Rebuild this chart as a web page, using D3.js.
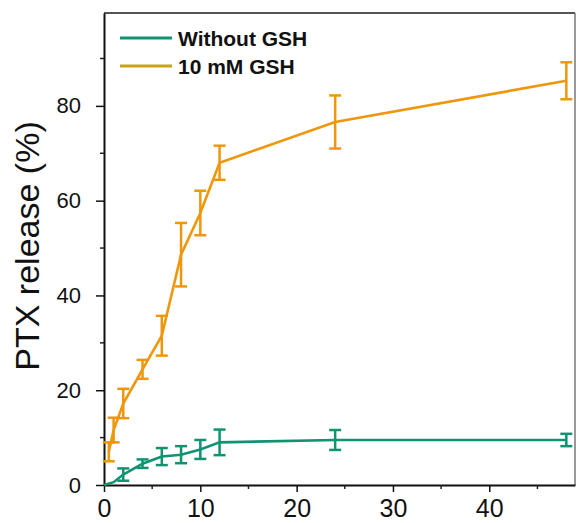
<!DOCTYPE html>
<html>
<head>
<meta charset="utf-8">
<script src="https://cdn.jsdelivr.net/npm/d3@7"></script>
<style>
    body { margin: 0; padding: 0; background: #fff; }
    svg { display: block; font-family: "Liberation Sans", Arial, sans-serif; }
</style>
</head>
<body>
<div id="chart"></div>
<script>
    // time points (h)
    var timeGSH = [0.5, 1, 2, 4, 6, 8, 10, 12, 24, 48];
    var releaseGSH = [7.0, 11.6, 17.2, 24.4, 31.5, 48.6, 57.4, 68.0, 76.6, 85.3];
    var errGSH = [2.0, 2.6, 3.1, 2.0, 4.2, 6.7, 4.7, 3.6, 5.6, 3.9];

    var timeNo = [0, 1, 2, 4, 6, 8, 10, 12, 24, 48];
    var releaseNo = [0, 0.6, 2.2, 4.5, 6.0, 6.4, 7.5, 9.0, 9.5, 9.5];
    var errNo = [0, 0, 1.3, 0.9, 1.8, 1.8, 2.0, 2.7, 2.1, 1.3];

    var xTicks = [0, 10, 20, 30, 40];
    var xMinor = [5, 15, 25, 35, 45];
    var yTicks = [0, 20, 40, 60, 80];
    var yMinor = [10, 30, 50, 70, 90];

    var seriesNames = ["Without GSH", "10 mM GSH"];
    var COLORS = { green: "#0f9370", orange: "#ee970c", goldLegend: "#c9a21c" };

    var W = 576, H = 523;
    var margin = { left: 104, right: 1, top: 13, bottom: 38 };

    var svg = d3.select("#chart").append("svg")
        .attr("width", W)
        .attr("height", H);

    var x = d3.scaleLinear().domain([0, 48.9]).range([margin.left, W - margin.right]);
    var y = d3.scaleLinear().domain([0, 99.6]).range([H - margin.bottom, margin.top]);

    // frame
    svg.append("line")
        .attr("x1", x.range()[0]).attr("x2", x.range()[1])
        .attr("y1", margin.top).attr("y2", margin.top)
        .attr("stroke", "#555").attr("stroke-width", 2);
    svg.append("line")
        .attr("x1", W - 1).attr("x2", W - 1)
        .attr("y1", margin.top).attr("y2", H - margin.bottom)
        .attr("stroke", "#777").attr("stroke-width", 1.5);

    // x axis
    var xAxis = svg.append("g")
        .attr("transform", "translate(0," + (H - margin.bottom) + ")");
    xAxis.call(d3.axisBottom(x).tickValues(xTicks).tickSize(7).tickSizeOuter(0).tickPadding(7));
    xAxis.selectAll(".tick text").attr("font-size", 25).attr("fill", "#111");
    xAxis.append("g").selectAll("line").data(xMinor).enter().append("line")
        .attr("x1", function(d) { return x(d); }).attr("x2", function(d) { return x(d); })
        .attr("y1", 0).attr("y2", 4).attr("stroke", "#222").attr("stroke-width", 1.5);
    xAxis.select(".domain").attr("stroke", "#111").attr("stroke-width", 2);
    xAxis.selectAll(".tick line").attr("stroke", "#111").attr("stroke-width", 1.5);

    // y axis
    var yAxis = svg.append("g")
        .attr("transform", "translate(" + margin.left + ",0)");
    yAxis.call(d3.axisLeft(y).tickValues(yTicks).tickSize(8).tickSizeOuter(0).tickPadding(15));
    yAxis.selectAll(".tick text").attr("font-size", 22).attr("fill", "#111");
    yAxis.append("g").selectAll("line").data(yMinor).enter().append("line")
        .attr("y1", function(d) { return y(d); }).attr("y2", function(d) { return y(d); })
        .attr("x1", 0).attr("x2", -4).attr("stroke", "#222").attr("stroke-width", 1.5);
    yAxis.select(".domain").attr("stroke", "#111").attr("stroke-width", 2);
    yAxis.selectAll(".tick line").attr("stroke", "#111").attr("stroke-width", 1.5);

    svg.append("text")
        .attr("transform", "translate(39,246) rotate(-90)")
        .attr("text-anchor", "middle")
        .attr("font-size", 34)
        .attr("fill", "#111")
        .text("PTX release (%)");

    function drawSeries(ts, vals, errs, color) {
        var pts = ts.map(function(t, i) { return { t: t, v: vals[i], e: errs[i] }; });
        var line = d3.line()
            .x(function(d) { return x(d.t); })
            .y(function(d) { return y(d.v); });
        var g = svg.append("g");
        var bars = g.selectAll("g.err").data(pts.filter(function(d) { return d.e > 0; }))
            .enter().append("g").attr("class", "err")
            .attr("stroke", color).attr("stroke-width", 2.5);
        bars.append("line")
            .attr("x1", function(d) { return x(d.t); }).attr("x2", function(d) { return x(d.t); })
            .attr("y1", function(d) { return y(d.v + d.e); })
            .attr("y2", function(d) { return y(d.v - d.e); });
        bars.append("line")
            .attr("x1", function(d) { return x(d.t) - 6; }).attr("x2", function(d) { return x(d.t) + 6; })
            .attr("y1", function(d) { return y(d.v + d.e); }).attr("y2", function(d) { return y(d.v + d.e); });
        bars.append("line")
            .attr("x1", function(d) { return x(d.t) - 6; }).attr("x2", function(d) { return x(d.t) + 6; })
            .attr("y1", function(d) { return y(d.v - d.e); }).attr("y2", function(d) { return y(d.v - d.e); });
        g.append("path")
            .datum(pts)
            .attr("d", line)
            .attr("fill", "none")
            .attr("stroke", color)
            .attr("stroke-width", 2.6);
    }

    drawSeries(timeNo, releaseNo, errNo, COLORS.green);
    drawSeries(timeGSH, releaseGSH, errGSH, COLORS.orange);

    // legend
    var legendColors = [COLORS.green, COLORS.goldLegend];
    var legend = svg.append("g").selectAll("g").data(seriesNames).enter().append("g")
        .attr("transform", function(d, i) { return "translate(120," + (38 + i * 28) + ")"; });
    legend.append("line")
        .attr("x1", 0).attr("x2", 52)
        .attr("stroke", function(d, i) { return legendColors[i]; })
        .attr("stroke-width", 3);
    legend.append("text")
        .attr("x", 58).attr("y", 8)
        .attr("font-size", 21)
        .attr("font-weight", "bold")
        .attr("fill", "#111")
        .text(function(d) { return d; });
</script>
</body>
</html>
